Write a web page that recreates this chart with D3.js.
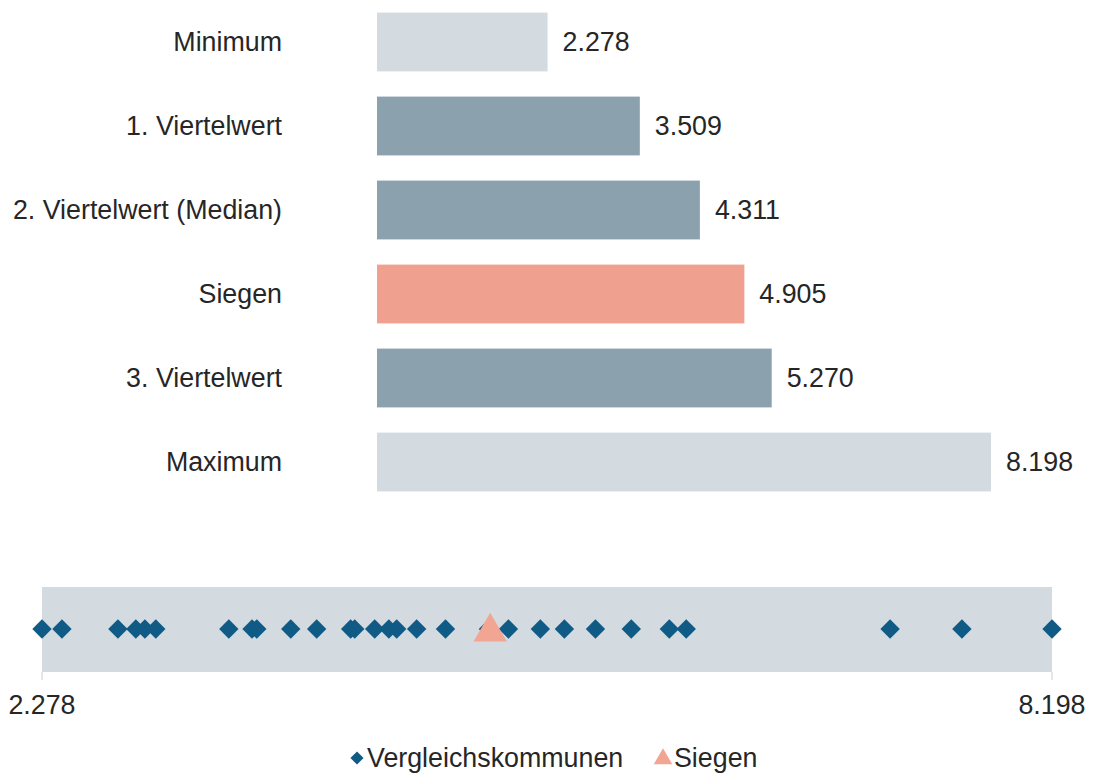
<!DOCTYPE html>
<html>
<head>
<meta charset="utf-8">
<script src="https://cdn.jsdelivr.net/npm/d3@7"></script>
<style>
  body { margin: 0; background: #fff; }
  text { font-family: "Liberation Sans", Arial, sans-serif; fill: #262626; }
</style>
</head>
<body>
<svg id="drawing_region"></svg>
<script>
// bar chart data
const categories = ["Minimum", "1. Viertelwert", "2. Viertelwert (Median)", "Siegen", "3. Viertelwert", "Maximum"];
const values = [2.278, 3.509, 4.311, 4.905, 5.270, 8.198];
const barKinds = ["extreme", "quartile", "quartile", "city", "quartile", "extreme"];

// strip plot data
const communes = [2.278, 2.395, 2.723, 2.828, 2.881, 2.945, 3.373, 3.509, 3.537, 3.736,
                  3.888, 4.087, 4.111, 4.228, 4.311, 4.357, 4.474, 4.643, 4.895, 5.012,
                  5.199, 5.340, 5.522, 5.732, 5.955, 6.054, 7.249, 7.670, 8.198];
const cityValue = 4.905;
const stripTicks = [2.278, 8.198];
const legendLabels = ["Vergleichskommunen", "Siegen"];

const colors = { extreme: "#d3dbe1", quartile: "#8ba1ae", city: "#f0a08e" };
const diamondColor = "#0f5b86";
const triangleColor = "#f1a592";
const fmt = d3.format(".3f");
const fontSize = "26.8px";

const W = 1093, H = 774;
const svg = d3.select("#drawing_region").attr("width", W).attr("height", H);

// --- bar chart
const xscale = d3.scaleLinear().domain([0, 8.198]).range([377, 991]);
const yscale = d3.scaleBand().domain(categories).range([0, 504]).paddingInner(0.3).paddingOuter(0.15);

const bars = svg.append("g");
bars.selectAll("rect")
    .data(categories)
    .enter()
    .append("rect")
    .attr("x", xscale(0))
    .attr("y", d => yscale(d))
    .attr("width", (d, i) => xscale(values[i]) - xscale(0))
    .attr("height", yscale.bandwidth())
    .attr("fill", (d, i) => colors[barKinds[i]]);

bars.selectAll(".cat")
    .data(categories)
    .enter()
    .append("text")
    .attr("class", "cat")
    .attr("x", 282)
    .attr("y", d => yscale(d) + yscale.bandwidth() / 2)
    .attr("dy", "0.35em")
    .attr("text-anchor", "end")
    .attr("font-size", fontSize)
    .text(d => d);

bars.selectAll(".val")
    .data(categories)
    .enter()
    .append("text")
    .attr("class", "val")
    .attr("x", (d, i) => xscale(values[i]) + 15)
    .attr("y", d => yscale(d) + yscale.bandwidth() / 2)
    .attr("dy", "0.35em")
    .attr("font-size", fontSize)
    .text((d, i) => fmt(values[i]));

// --- strip plot
const sx = d3.scaleLinear().domain([2.278, 8.198]).range([42, 1052]);
const stripY = 629;
const strip = svg.append("g");

strip.append("rect")
    .attr("x", sx.range()[0])
    .attr("y", 587)
    .attr("width", sx.range()[1] - sx.range()[0])
    .attr("height", 85)
    .attr("fill", "#d3dbe1");

strip.selectAll(".tick")
    .data(stripTicks)
    .enter()
    .append("line")
    .attr("x1", d => sx(d)).attr("x2", d => sx(d))
    .attr("y1", 672).attr("y2", 680)
    .attr("stroke", "#ccc");

strip.selectAll(".ticklabel")
    .data(stripTicks)
    .enter()
    .append("text")
    .attr("x", d => sx(d))
    .attr("y", 714)
    .attr("text-anchor", "middle")
    .attr("font-size", fontSize)
    .text(d => fmt(d));

const diamond = d3.symbol().type(d3.symbolDiamond2).size(240);
strip.selectAll(".dot")
    .data(communes)
    .enter()
    .append("path")
    .attr("d", diamond)
    .attr("transform", d => `translate(${sx(d)}, ${stripY})`)
    .attr("fill", diamondColor);

const tri = d3.symbol().type(d3.symbolTriangle).size(480);
strip.append("path")
    .attr("d", tri)
    .attr("transform", `translate(${sx(cityValue)}, ${stripY + 3})`)
    .attr("fill", triangleColor);

// --- legend
const legend = svg.append("g").attr("transform", "translate(0, 758)");
legend.append("path")
    .attr("d", d3.symbol().type(d3.symbolDiamond2).size(110))
    .attr("transform", "translate(357, 0)")
    .attr("fill", diamondColor);
legend.append("text")
    .attr("x", 367).attr("y", 0).attr("dy", "0.35em")
    .attr("font-size", fontSize)
    .text(legendLabels[0]);
legend.append("path")
    .attr("d", d3.symbol().type(d3.symbolTriangle).size(150))
    .attr("transform", "translate(663, 1)")
    .attr("fill", triangleColor);
legend.append("text")
    .attr("x", 674).attr("y", 0).attr("dy", "0.35em")
    .attr("font-size", fontSize)
    .text(legendLabels[1]);
</script>
</body>
</html>
